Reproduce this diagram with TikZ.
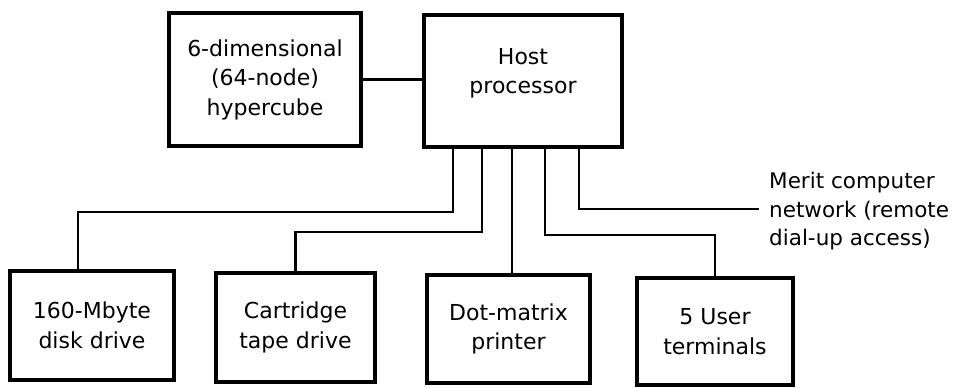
\documentclass[tikz,border=0pt]{standalone}
\usepackage{fontspec}
\setmainfont{DejaVu Sans}
\begin{document}
\begin{tikzpicture}[x=1pt,y=-1pt,
  box/.style={draw, line width=3.2pt, align=center, inner sep=0pt,
    font=\fontsize{22}{29.5}\selectfont},
  conn/.style={line width=2.2pt},
  lbl/.style={align=left, inner sep=0pt, font=\fontsize{21.5}{28.5}\selectfont}]
\useasboundingbox (0,0) rectangle (958,388);
\fill[white] (0,0) rectangle (958,388);
% boxes
\node[box, minimum width=192pt, minimum height=133pt] (cube) at (265,79.5)
  {6-dimensional\\(64-node)\\hypercube};
\node[box, minimum width=198pt, minimum height=132pt, text depth=20pt] (host) at (523,81)
  {Host\\processor};
\node[box, minimum width=164pt, minimum height=109pt] (disk) at (92,325.5)
  {160-Mbyte\\disk drive};
\node[box, minimum width=159pt, minimum height=109pt] (cart) at (295.5,327.5)
  {Cartridge\\tape drive};
\node[box, minimum width=163pt, minimum height=108pt] (dot) at (508.5,329)
  {Dot-matrix\\printer};
\node[box, minimum width=156pt, minimum height=107pt] (term) at (715,331.5)
  {5 User\\terminals};
\node[lbl, anchor=west] (merit) at (769,211.5)
  {Merit computer\\network (remote\\dial-up access)};
% turning points
\coordinate (b1) at (453,212);
\coordinate (b1e) at (78,212);
\coordinate (b2) at (482,232);
\coordinate (b3) at (512,250);
\coordinate (b4) at (545,235);
\coordinate (b5) at (579,209);
\coordinate (mend) at (759,209);
% connectors
\draw[conn] (cube.east) -- (host.west |- cube.east);
\draw[conn] (host.south -| b1) -- (b1) -- (b1e) -- (disk.north -| b1e);
\draw[conn] (host.south -| b2) -- (b2) -| (cart.north);
\draw[conn] (host.south -| b3) -- (dot.north -| b3);
\draw[conn] (host.south -| b4) -- (b4) -| (term.north);
\draw[conn] (host.south -| b5) -- (b5) -- (mend);
\end{tikzpicture}
\end{document}
